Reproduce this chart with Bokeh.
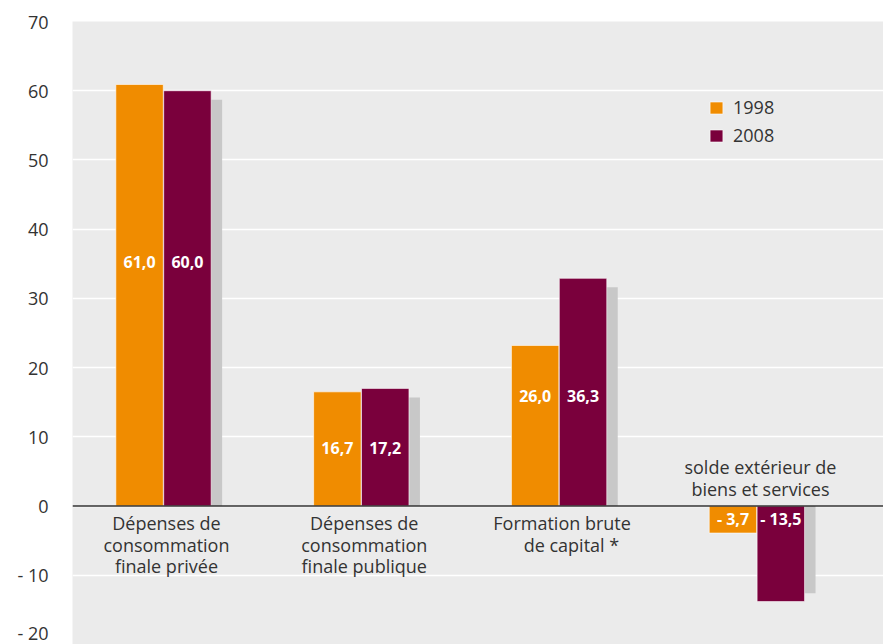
from bokeh.plotting import figure
from bokeh.models import (ColumnDataSource, Range1d, FixedTicker, Span, Legend, LegendItem)
from bokeh.transform import dodge
from bokeh.core.properties import value
from bokeh.embed import file_html
from bokeh.resources import INLINE

# ---- data ----
NB = "\u00a0"
categories = ["Dépenses de\nconsommation\nfinale privée",
              "Dépenses de\nconsommation\nfinale publique",
              "Formation brute\n" + NB * 4 + "de capital *",
              "solde extérieur de\nbiens et services"]
bars_1998 = [60.9, 16.5, 23.2, -3.9]
bars_2008 = [60.0, 17.0, 32.9, -13.8]
bars_shadow = [58.7, 15.7, 31.6, -12.6]
labels_1998 = [61.0, 16.7, 26.0, -3.7]
labels_2008 = [60.0, 17.2, 36.3, -13.5]
y_ticks = [-20, -10, 0, 10, 20, 30, 40, 50, 60, 70]
series_names = ["1998", "2008"]

# ---- layout (not data) ----
label_y = [35.3, 8.4, 15.9, -1.9]

ORANGE = "#F08C00"
MAROON = "#7A003C"
SHADOW = "#C8C8C8"
BG = "#EBEBEB"
TXT = "#333333"
FONT = "Open Sans"


def fmt(v):
    s = ("%.1f" % abs(v)).replace(".", ",")
    return ("- " + s) if v < 0 else s


idx = list(range(len(categories)))
src = ColumnDataSource(dict(
    x=idx, b98=bars_1998, b08=bars_2008, sh=bars_shadow,
    l98=[fmt(v) for v in labels_1998], l08=[fmt(v) for v in labels_2008],
    ly=label_y, cat=categories))

p = figure(width=883, height=644, output_backend="svg", toolbar_location=None,
           x_range=Range1d(-0.46, 3.64), y_range=Range1d(-20, 70),
           min_border_left=72, min_border_right=0, min_border_top=21,
           min_border_bottom=0)
p.background_fill_color = BG
p.border_fill_color = "white"
p.outline_line_color = None
p.xaxis.visible = False
p.xgrid.grid_line_color = None
p.ygrid.grid_line_color = "white"
p.ygrid.grid_line_width = 1.5
p.yaxis.ticker = FixedTicker(ticks=y_ticks)
p.yaxis.major_label_overrides = {t: (("- %d" % abs(t)) if t < 0 else str(t)) for t in y_ticks}
p.yaxis.axis_line_color = None
p.yaxis.major_tick_line_color = None
p.yaxis.major_tick_out = 0
p.yaxis.major_tick_in = 0
p.yaxis.minor_tick_line_color = None
p.yaxis.minor_tick_out = 0
p.yaxis.major_label_standoff = 24
p.yaxis.major_label_text_font = FONT
p.yaxis.major_label_text_font_size = "18px"
p.yaxis.major_label_text_color = TXT

W = 0.24
p.vbar(x=dodge("x", 0.1765, range=p.x_range), top="sh", bottom=0, width=W, source=src,
       fill_color=SHADOW, line_color=None)
r98 = p.vbar(x=dodge("x", -0.121, range=p.x_range), top="b98", bottom=0, width=W, source=src,
             fill_color=ORANGE, line_color="white", line_alpha=0.6, line_width=1)
r08 = p.vbar(x=dodge("x", 0.121, range=p.x_range), top="b08", bottom=0, width=W, source=src,
             fill_color=MAROON, line_color="white", line_alpha=0.6, line_width=1)

p.add_layout(Span(location=0, dimension="width", line_color=TXT, line_width=1.5))

p.text(x=dodge("x", -0.121, range=p.x_range), y="ly", text="l98", source=src,
       text_color="white", text_font=value(FONT), text_font_style="bold",
       text_font_size="16px", text_align="center", text_baseline="middle")
p.text(x=dodge("x", 0.121, range=p.x_range), y="ly", text="l08", source=src,
       text_color="white", text_font=value(FONT), text_font_style="bold",
       text_font_size="16px", text_align="center", text_baseline="middle")

below = [i for i in idx if bars_2008[i] >= 0]
above = [i for i in idx if bars_2008[i] < 0]
src_below = ColumnDataSource(dict(x=[i for i in below], y=[0] * len(below),
                                  t=[categories[i] for i in below]))
src_above = ColumnDataSource(dict(x=[i for i in above], y=[0] * len(above),
                                  t=[categories[i] for i in above]))
p.text(x=dodge("x", 0.015, range=p.x_range), y="y", text="t", source=src_below,
       text_color=TXT, text_font=value(FONT), text_font_size="18px",
       text_align="center", text_baseline="top", y_offset=5, text_line_height=0.9)
p.text(x=dodge("x", 0.018, range=p.x_range), y="y", text="t", source=src_above,
       text_color=TXT, text_font=value(FONT), text_font_size="18px",
       text_align="center", text_baseline="bottom", y_offset=-5, text_line_height=0.9)

legend = Legend(items=[LegendItem(label=series_names[0], renderers=[r98]),
                       LegendItem(label=series_names[1], renderers=[r08])],
                location=(636, 552 - 55), orientation="vertical",
                background_fill_alpha=0, border_line_color=None,
                glyph_width=16, glyph_height=15, label_standoff=9, spacing=4,
                padding=0, margin=0,
                label_text_font=FONT, label_text_font_size="18px",
                label_text_color=TXT)
p.add_layout(legend)

open("out.html", "w").write(file_html(p, INLINE))
